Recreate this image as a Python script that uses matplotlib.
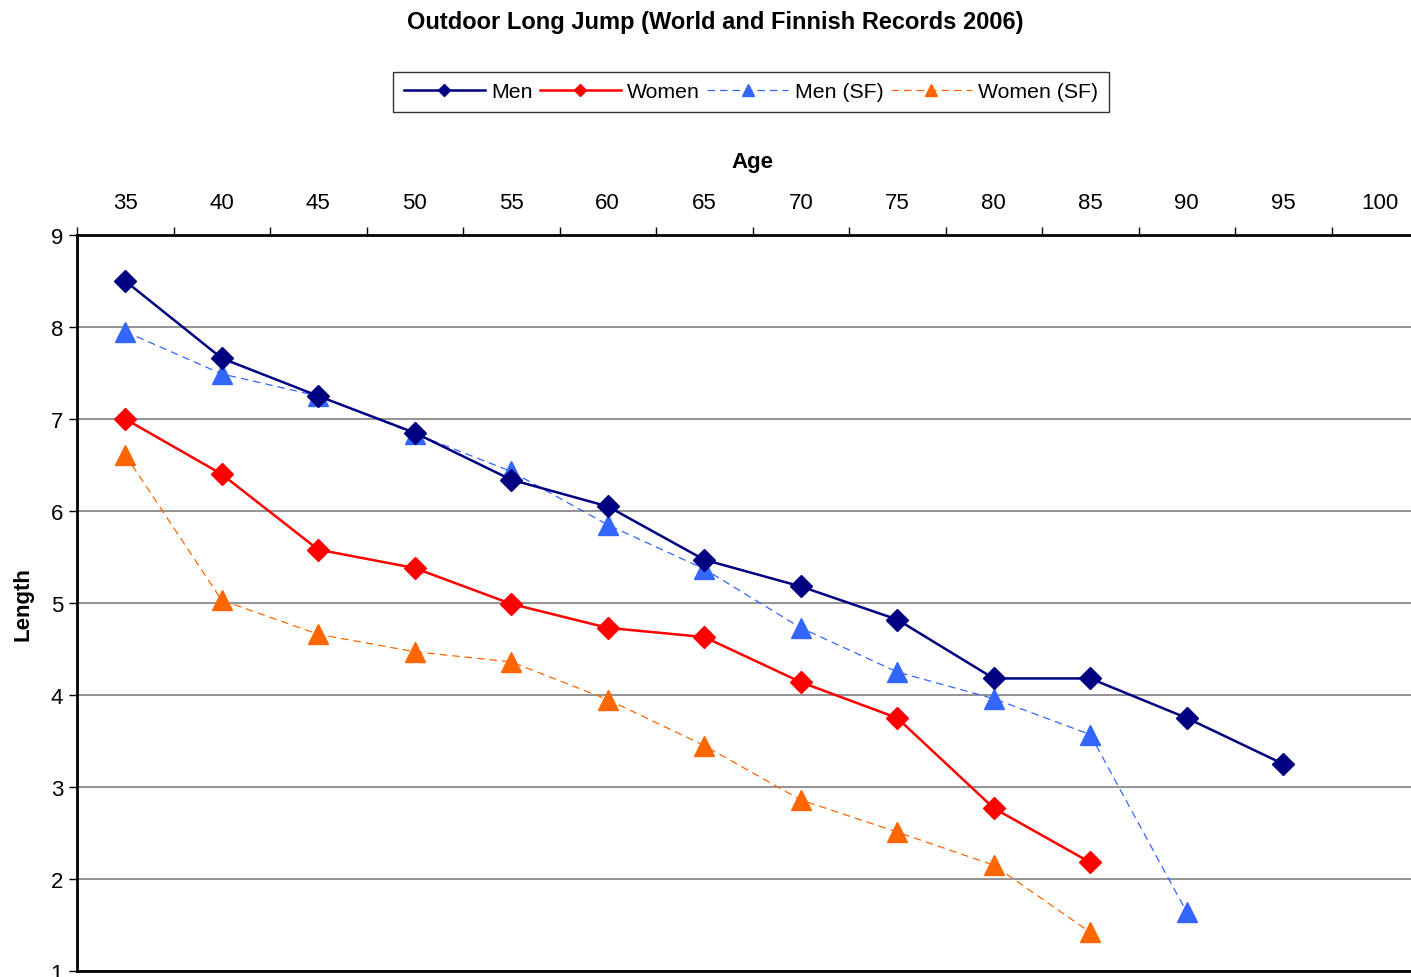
import numpy as np
import matplotlib
matplotlib.use("Agg")
from matplotlib import pyplot as plt
from matplotlib.ticker import FixedLocator

plt.rcParams['font.family'] = ['Liberation Sans', 'DejaVu Sans']

# Data
ages = ["35", "40", "45", "50", "55", "60", "65", "70", "75", "80", "85", "90", "95", "100"]
men = [8.50, 7.66, 7.25, 6.85, 6.34, 6.05, 5.47, 5.18, 4.82, 4.18, 4.18, 3.75, 3.25]
women = [7.00, 6.40, 5.58, 5.38, 4.99, 4.73, 4.63, 4.14, 3.75, 2.77, 2.18]
men_sf = [7.95, 7.49, 7.25, 6.84, 6.43, 5.85, 5.37, 4.73, 4.25, 3.96, 3.57, 1.64]
women_sf = [6.61, 5.03, 4.66, 4.47, 4.36, 3.95, 3.45, 2.86, 2.51, 2.15, 1.42]


def main():
    fig = plt.figure(figsize=(14.11, 9.78), dpi=100)
    W, H = 1411, 978
    ax = fig.add_axes([77 / W, 6 / H, 1351 / W, 736 / H])

    ax.plot(np.arange(len(men)), men, color="#000080", lw=1.8,
            marker="D", ms=11, label="Men", clip_on=False, zorder=4)
    ax.plot(np.arange(len(women)), women, color="#FF0000", lw=1.8,
            marker="D", ms=11, label="Women", clip_on=False, zorder=4)
    ax.plot(np.arange(len(men_sf)), men_sf, color="#3366FF", lw=0.9,
            ls=(0, (6, 4)), marker="^", ms=14.5, label="Men (SF)",
            clip_on=False, zorder=3)
    ax.plot(np.arange(len(women_sf)), women_sf, color="#FF6600", lw=0.9,
            ls=(0, (6, 4)), marker="^", ms=14.5, label="Women (SF)",
            clip_on=False, zorder=3)

    ax.set_xlim(-0.5, len(ages) - 0.5)
    ax.set_ylim(1, 9)

    # x axis on top, labels on categories, ticks between them
    ax.xaxis.tick_top()
    ax.xaxis.set_label_position("top")
    ax.set_xticks(np.arange(len(ages)))
    ax.set_xticklabels(ages)
    ax.xaxis.set_minor_locator(FixedLocator(np.arange(len(ages) + 1) - 0.5))
    ax.tick_params(axis="x", which="major", length=0, labelsize=16, pad=16)
    ax.tick_params(axis="x", which="minor", length=6, width=1, color="black")
    ax.set_xlabel("Age", fontsize=16, fontweight="bold", labelpad=18)

    ax.set_yticks(np.arange(1, 10))
    ax.tick_params(axis="y", length=6, width=1, labelsize=16, pad=4)
    ax.set_ylabel("Length", fontsize=16, fontweight="bold", labelpad=12)

    ax.grid(axis="y", color="#808080", lw=1.2)
    ax.set_axisbelow(True)
    ax.spines["right"].set_visible(False)
    for s in ["left", "top", "bottom"]:
        ax.spines[s].set_linewidth(2)
        ax.spines[s].set_color("black")

    fig.text(715 / W, 1 - 23 / H, "Outdoor Long Jump (World and Finnish Records 2006)",
             ha="center", va="center", fontsize=17, fontweight="bold")

    handles, labels = ax.get_legend_handles_labels()
    leg = fig.legend(handles, labels, ncol=4, loc="center",
                     bbox_to_anchor=(751 / W, 1 - 93 / H), fontsize=15.3,
                     frameon=True, fancybox=False, handlelength=3.8,
                     handletextpad=0.3, columnspacing=0.35, markerscale=0.6,
                     borderpad=0.5, borderaxespad=0)
    leg.get_frame().set_edgecolor("black")
    leg.get_frame().set_linewidth(1)

    fig.savefig("out.png", dpi=100)


if __name__ == "__main__":
    main()
